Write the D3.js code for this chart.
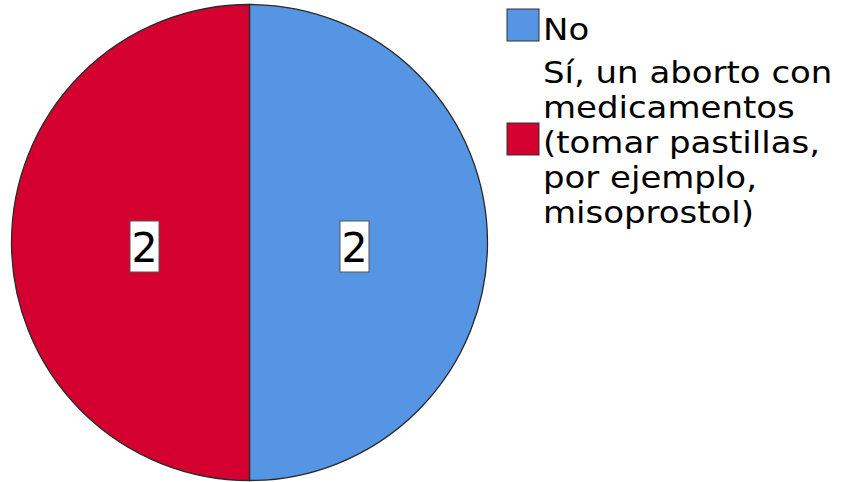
<!DOCTYPE html>
<html><head><meta charset="utf-8">
<script src="https://cdn.jsdelivr.net/npm/d3@7"></script>
<style>body{margin:0;background:#fff}svg{display:block}</style>
</head><body>
<script>
const categories = ["No", "Sí, un aborto con medicamentos (tomar pastillas, por ejemplo, misoprostol)"];
const values = [2, 2];
const colors = ["#5694e4", "#d4002f"];
const legendLines = [["No"], ["Sí, un aborto con", "medicamentos", "(tomar pastillas,", "por ejemplo,", "misoprostol)"]];

const W = 841, H = 482;
const cx = 249.5, cy = 242.5, R = 238;
const font = "'DejaVu Sans', Verdana, sans-serif";

const svg = d3.select("body").append("svg").attr("width", W).attr("height", H);
const pie = d3.pie().sort(null).value(d => d.v).startAngle(0).endAngle(2 * Math.PI);
const data = pie(values.map((v, i) => ({v, i})));
const arc = d3.arc().innerRadius(0).outerRadius(R);
const g = svg.append("g").attr("transform", `translate(${cx},${cy})`);
g.selectAll("path").data(data).join("path")
  .attr("d", arc).attr("fill", d => colors[d.data.i])
  .attr("stroke", "#2a2a2a").attr("stroke-width", 1.3);

const labelArc = d3.arc().innerRadius(105).outerRadius(105);
const lab = g.selectAll("g.lab").data(data).join("g").attr("class", "lab")
  .attr("transform", d => { const c = labelArc.centroid(d); return `translate(${c[0]},${c[1] + 4})`; });
lab.append("rect").attr("x", -14.5).attr("y", -25.5).attr("width", 29).attr("height", 51)
  .attr("fill", "#fff").attr("stroke", "#555").attr("stroke-width", 1);
lab.append("text").attr("text-anchor", "middle").attr("y", 15)
  .attr("font-family", font).attr("font-size", 41).attr("fill", "#000")
  .text(d => d.data.v);

// legend
const leg = svg.append("g");
const swatchY = [9, 123];
const firstBase = [40, 83];
const lineH = 35;
const fs = 29.8, sx = 1.14;
categories.forEach((c, i) => {
  leg.append("rect").attr("x", 507).attr("y", swatchY[i]).attr("width", 32).attr("height", 32)
    .attr("fill", colors[i]).attr("stroke", "#333").attr("stroke-width", 1);
  legendLines[i].forEach((line, j) => {
    leg.append("text")
      .attr("transform", `translate(543,${firstBase[i] + j * lineH}) scale(${sx},1.04)`)
      .attr("font-family", font).attr("font-size", fs).attr("fill", "#000").text(line);
  });
});
</script>
</body></html>
